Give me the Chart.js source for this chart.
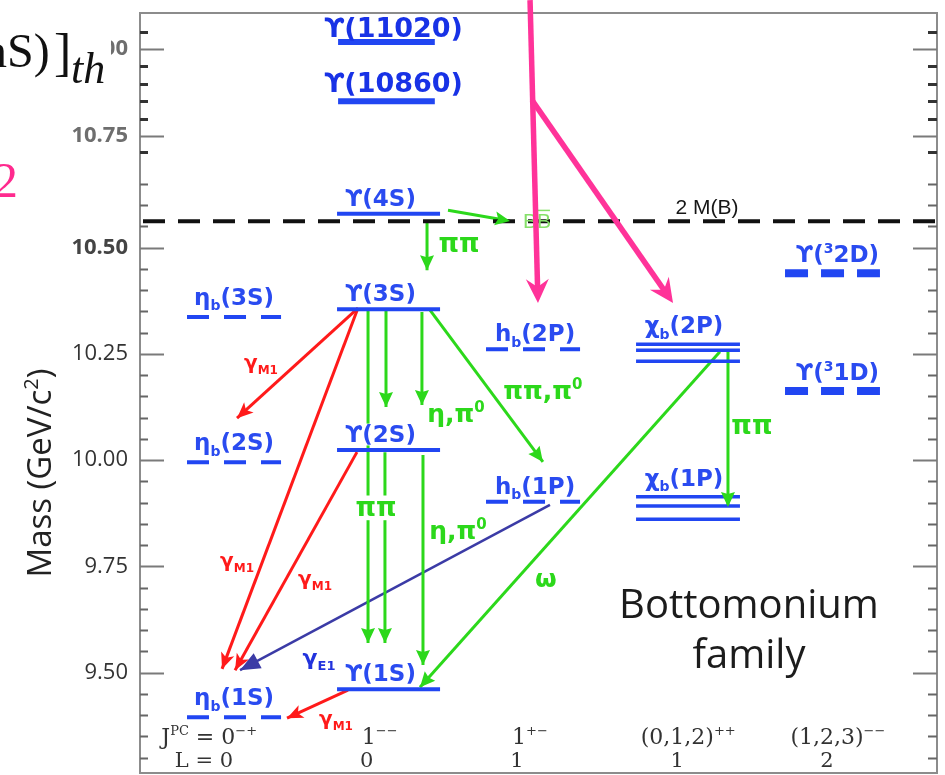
<!DOCTYPE html>
<html><head><meta charset="utf-8">
<script src="https://cdn.jsdelivr.net/npm/chart.js@4.4.1/dist/chart.umd.min.js"></script>
<style>html,body{margin:0;padding:0;background:#fff;overflow:hidden}canvas{display:block}</style>
</head><body>
<canvas id="c" width="945" height="775"></canvas>
<script>
// ================= DATA =================
const jpcLabels  = ['0-+', '1--', '1+-', '(0,1,2)++', '(1,2,3)--'];   // column categories (J^PC)
const orbitalL   = ['0', '0', '1', '1', '2'];
const majorTicks = [9.50, 9.75, 10.00, 10.25, 10.50, 10.75, 11.00];

const levelNames  = ['ηb(1S)','ηb(2S)','ηb(3S)','Υ(1S)','Υ(2S)','Υ(3S)','Υ(4S)','Υ(10860)','Υ(11020)',
                     'hb(1P)','hb(2P)','χb0(1P)','χb1(1P)','χb2(1P)','χb0(2P)','χb1(2P)','χb2(2P)','Υ(1D)','Υ(2D)'];
const levelColumn = [0,0,0, 1,1,1,1,1,1, 2,2, 3,3,3,3,3,3, 4,4];
const levelMass   = [9.395, 9.995, 10.337, 9.461, 10.024, 10.355, 10.580, 10.850, 11.020,
                     9.902, 10.261, 9.861, 9.892, 9.914, 10.233, 10.259, 10.273, 10.163, 10.440];
const thresholdMass = 10.562;   // 2 M(B)

// transitions (x in column units, y in GeV)
const transKind  = ['M1','M1','M1','M1','BB','pipi','pipi','pipi','pipi','eta','eta','pipi','omega','pipi','E1'];
const transFromX = [0.828, 0.828, 0.821, 0.761, 1.429, 1.289, 0.895, 1.015, 1.008, 1.255, 1.262, 1.309, 3.245, 3.299, 2.110];
const transFromM = [10.358,10.358,10.019, 9.459,10.588,10.558,10.353,10.353,10.019,10.349,10.012,10.353,10.255,10.255, 9.895];
const transToX   = [0.020,-0.080, 0.007, 0.354, 1.843, 1.289, 0.895, 1.015, 1.008, 1.255, 1.262, 2.063, 1.242, 3.299, 0.040];
const transToM   = [10.099, 9.509, 9.506, 9.393,10.563,10.447, 9.570,10.125, 9.570,10.130, 9.518, 9.996, 9.466, 9.890, 9.506];

// pink annotation arrows
const noteFromX = [1.977, 1.990];
const noteFromM = [11.140, 10.853];
const noteToX   = [2.030, 2.932];
const noteToM   = [10.370, 10.370];

// ================= STYLE / LAYOUT =================
const BLUE = '#2146f2', BLUET = '#2a4bf0', RED = '#ff1a1a', GREEN = '#2cd81b', NAVY = '#3b3ba6', PINK = '#ff3399';
const colShift = [0, 0.032, -0.003, 0.032, -0.003];
const colHalf  = [0.314, 0.344, 0.314, 0.347, 0.317];

// broken (piecewise-linear) value axis, as in the reference figure
const nodes = [[9.264,773],[10.65,183.95],[10.70,152],[10.75,136],[11.00,49],[11.103,13]].map(([v,p]) => [v,(773-p)/760]);
function v2d(v){
  let i = nodes.length - 2;
  for (let k = 0; k < nodes.length - 1; k++) { if (v <= nodes[k+1][0]) { i = k; break; } }
  const [a,da] = nodes[i], [b,db] = nodes[i+1];
  return da + (v-a)*(db-da)/(b-a);
}
function d2v(d){
  let i = nodes.length - 2;
  for (let k = 0; k < nodes.length - 1; k++) { if (d <= nodes[k+1][1]) { i = k; break; } }
  const [a,da] = nodes[i], [b,db] = nodes[i+1];
  return a + (d-da)*(b-a)/(db-da);
}
class BrokenScale extends Chart.LinearScale {
  static id = 'broken';
  static defaults = {};
  getPixelForValue(v){ return this.getPixelForDecimal(v2d(v)); }
  getValueForPixel(p){ return d2v(this.getDecimalForPixel(p)); }
}
Chart.register(BrokenScale);

// ---- datasets ----
const datasets = [];
levelNames.forEach((n,i) => {
  const c = levelColumn[i];
  const x0 = c + colShift[c] - colHalf[c], x1 = c + colShift[c] + colHalf[c];
  let st = {borderWidth: 4, borderDash: []};
  if (c === 0 || c === 2) st = {borderWidth: 4, borderDash: [22,15]};
  if (c === 3) st = {borderWidth: 3.5, borderDash: []};
  if (c === 4) st = {borderWidth: 8, borderDash: [23,13]};
  if (n === 'Υ(10860)' || n === 'Υ(11020)') st = {borderWidth: 6, borderDash: []};
  let xa = x0, xb = x1;
  if (n === 'Υ(10860)' || n === 'Υ(11020)') { xa = x0 + 0.007; xb = x1 - 0.035; }
  datasets.push({label: n, data: [{x: xa, y: levelMass[i]}, {x: xb, y: levelMass[i]}],
    borderColor: BLUE, borderWidth: st.borderWidth, borderDash: st.borderDash, showLine: true, pointRadius: 0});
});
datasets.push({label: '2M(B)', data: [{x: -0.628, y: thresholdMass}, {x: 4.695, y: thresholdMass}],
  borderColor: '#111', borderWidth: 4, borderDash: [22,13], borderDashOffset: 32, showLine: true, pointRadius: 0});
const kindStyle = {
  M1: {c: RED, w: 3, L: 16, W: 7, N: 4},
  BB: {c: GREEN, w: 3, L: 15, W: 7, N: 3},
  pipi: {c: GREEN, w: 3, L: 15, W: 7, N: 2},
  eta: {c: GREEN, w: 3, L: 15, W: 7, N: 2},
  omega: {c: GREEN, w: 3, L: 15, W: 7, N: 2},
  E1: {c: NAVY, w: 2.5, L: 20, W: 8.5, N: 0}
};
const arrowIdx = [];
transKind.forEach((k,i) => {
  arrowIdx.push({idx: datasets.length, st: kindStyle[k]});
  datasets.push({label: k, data: [{x: transFromX[i], y: transFromM[i]}, {x: transToX[i], y: transToM[i]}],
    borderColor: kindStyle[k].c, borderWidth: kindStyle[k].w, showLine: true, pointRadius: 0});
});

// ---- drawing helpers ----
function head(ctx, ax, ay, bx, by, st, color){
  const dx = bx-ax, dy = by-ay, len = Math.hypot(dx,dy); const ux = dx/len, uy = dy/len; const nx = -uy, ny = ux;
  ctx.beginPath();
  ctx.moveTo(bx, by);
  ctx.lineTo(bx - st.L*ux + st.W*nx, by - st.L*uy + st.W*ny);
  ctx.lineTo(bx - (st.L-st.N)*ux, by - (st.L-st.N)*uy);
  ctx.lineTo(bx - st.L*ux - st.W*nx, by - st.L*uy - st.W*ny);
  ctx.closePath(); ctx.fillStyle = color || st.c; ctx.fill();
}
function drawRich(ctx, x, y, segs, o){
  const fam = o.family || '"DejaVu Sans"';
  const parts = segs.map(s => {
    const kind = s[1] || 'n';
    const sz = (kind === 'sub' || kind === 'sup') ? Math.round(o.size*(o.small || 0.6)) : o.size;
    const font = `${o.style || 'normal'} ${o.weight || 'normal'} ${sz}px ${fam}`;
    ctx.font = font;
    const w = ctx.measureText(s[0]).width;
    const dy = kind === 'sub' ? o.size*0.24 : kind === 'sup' ? -o.size*0.4 : 0;
    return {t: s[0], kind, font, w, dy, sz};
  });
  const total = parts.reduce((a,p) => a+p.w, 0);
  let cx = o.align === 'center' ? x - total/2 : o.align === 'right' ? x - total : x;
  if (o.bg) { ctx.fillStyle = '#fff'; ctx.fillRect(cx-3, y - o.size*0.8, total+6, o.size*0.95); }
  ctx.textAlign = 'left'; ctx.textBaseline = 'alphabetic';
  for (const p of parts) {
    ctx.font = p.font; ctx.fillStyle = o.color;
    ctx.fillText(p.t, cx, y + p.dy);
    if (p.kind === 'bar') { ctx.strokeStyle = o.color; ctx.lineWidth = 1.5; ctx.beginPath(); ctx.moveTo(cx+1, y - p.sz*0.82); ctx.lineTo(cx+p.w-1, y - p.sz*0.82); ctx.stroke(); }
    cx += p.w;
  }
  return total;
}

const stateLabels = [
  {lvl: 'ηb(1S)', segs: [['η'],['b','sub'],['(1S)']], dx: 0, dy: 12},
  {lvl: 'ηb(2S)', segs: [['η'],['b','sub'],['(2S)']], dx: 0, dy: 12},
  {lvl: 'ηb(3S)', segs: [['η'],['b','sub'],['(3S)']], dx: 0, dy: 12},
  {lvl: 'Υ(1S)', segs: [['ϒ(1S)']], dx: -8, dy: 8, bg: true},
  {lvl: 'Υ(2S)', segs: [['ϒ(2S)']], dx: -8, dy: 8, bg: true},
  {lvl: 'Υ(3S)', segs: [['ϒ(3S)']], dx: -8, dy: 8},
  {lvl: 'Υ(4S)', segs: [['ϒ(4S)']], dx: -8, dy: 8},
  {lvl: 'Υ(10860)', segs: [['ϒ(10860)']], dx: 5, dy: 9, size: 27, color: '#1832e6'},
  {lvl: 'Υ(11020)', segs: [['ϒ(11020)']], dx: 5, dy: 5, size: 27, color: '#1832e6'},
  {lvl: 'hb(1P)', segs: [['h'],['b','sub'],['(1P)']], dx: 2, dy: 8},
  {lvl: 'hb(2P)', segs: [['h'],['b','sub'],['(2P)']], dx: 2, dy: 8},
  {lvl: 'χb2(1P)', segs: [['χ'],['b','sub'],['(1P)']], dx: -4, dy: 11},
  {lvl: 'χb2(2P)', segs: [['χ'],['b','sub'],['(2P)']], dx: -4, dy: 11},
  {lvl: 'Υ(1D)', segs: [['ϒ('],['3','sup'],['1D)']], dx: 5, dy: 11},
  {lvl: 'Υ(2D)', segs: [['ϒ('],['3','sup'],['2D)']], dx: 5, dy: 11}
];
const GM = [['γ'],['M1','sub']];
const transLabels = [
  {segs: GM, x: 0.180, m: 10.231, color: RED, size: 20},
  {segs: GM, x: 0.020, m: 9.765, color: RED, size: 20},
  {segs: GM, x: 0.541, m: 9.723, color: RED, size: 20},
  {segs: GM, x: 0.681, m: 9.393, color: RED, size: 20},
  {segs: [['B'],['B','bar']], x: 2.023, m: 10.565, color: '#86e06a', size: 21, weight: 'normal', family: '"Liberation Sans"'},
  {segs: [['ππ']], x: 1.503, m: 10.511, color: GREEN, size: 26},
  {segs: [['ππ']], x: 0.948, m: 9.890, color: GREEN, size: 26, bg: true},
  {segs: [['η,π'],['0','sup']], x: 1.482, m: 10.111, color: GREEN, size: 25},
  {segs: [['η,π'],['0','sup']], x: 1.496, m: 9.836, color: GREEN, size: 25},
  {segs: [['ππ,π'],['0','sup']], x: 2.063, m: 10.165, color: GREEN, size: 25},
  {segs: [['ω']], x: 2.083, m: 9.723, color: GREEN, size: 25},
  {segs: [['ππ']], x: 3.459, m: 10.083, color: GREEN, size: 26},
  {segs: [['γ'],['E1','sub']], x: 0.568, m: 9.537, color: '#2233dd', size: 22},
  {segs: [['2 M(B)']], x: 3.159, m: 10.598, color: '#161616', size: 21, weight: 'normal', family: '"Liberation Sans"'}
];

const plugin = {
  id: 'bottomonium',
  afterDatasetsDraw(chart){
    const ctx = chart.ctx, xs = chart.scales.x, ys = chart.scales.y;
    ctx.save();
    arrowIdx.forEach(({idx, st}) => {
      const pts = chart.getDatasetMeta(idx).data;
      head(ctx, pts[0].x, pts[0].y, pts[1].x, pts[1].y, st);
    });
    stateLabels.forEach(l => {
      const i = levelNames.indexOf(l.lvl), c = levelColumn[i];
      const px = xs.getPixelForValue(c + colShift[c]) + l.dx, py = ys.getPixelForValue(levelMass[i]) - l.dy;
      drawRich(ctx, px, py, l.segs, {size: l.size || 23, weight: 'bold', color: l.color || BLUET, align: 'center', bg: l.bg});
    });
    transLabels.forEach(l => {
      const s = l.size;
      drawRich(ctx, xs.getPixelForValue(l.x), ys.getPixelForValue(l.m) + s*0.36, l.segs,
        {size: s, weight: l.weight || 'bold', color: l.color, align: 'center', bg: l.bg, family: l.family});
    });
    // column quantum numbers
    jpcLabels.forEach((j,c) => {
      const cx = xs.getPixelForValue(c);
      const base = j.slice(0, -2), pc = j.slice(-2).replace(/-/g,'−');
      const o = {size: 22, color: '#333', family: '"DejaVu Serif"', small: 0.6};
      const y1 = ys.getPixelForValue(9.333), y2 = ys.getPixelForValue(9.279);
      if (c === 0) {
        drawRich(ctx, cx + 23, y1, [['J'],['PC','sup'],[' = ' + base],[pc,'sup']], {...o, align: 'right'});
        drawRich(ctx, cx - 1, y2, [['L = ' + orbitalL[c]]], {...o, size: 21, align: 'right'});
      } else {
        const off1 = [0, -4, -3.5, 5, 5][c], off2 = [0, -17, -16.5, -6, -6][c];
        drawRich(ctx, cx + off1, y1, [[base],[pc,'sup']], {...o, align: 'center'});
        drawRich(ctx, cx + off2, y2, [[orbitalL[c]]], {...o, size: 21, align: 'center'});
      }
    });
    const bx = xs.getPixelForValue(3.439);
    drawRich(ctx, bx, ys.getPixelForValue(9.629), [['Bottomonium']], {size: 40, color: '#1c1c1c', align: 'center', family: '"Open Sans"'});
    drawRich(ctx, bx, ys.getPixelForValue(9.511), [['family']], {size: 40, color: '#1c1c1c', align: 'center', family: '"Open Sans"'});
    ctx.restore();
  },
  afterDraw(chart){
    const ctx = chart.ctx, xs = chart.scales.x, ys = chart.scales.y, a = chart.chartArea;
    ctx.save();
    // frame
    ctx.strokeStyle = '#8c8c8c'; ctx.lineWidth = 2;
    ctx.strokeRect(a.left, a.top, a.right - a.left, a.bottom - a.top);
    // ticks (inward, both sides)
    for (let k = 186; k <= 221; k++) {
      const v = k*0.05, y = Math.round(ys.getPixelForValue(v)) + 0.5;
      const major = k % 5 === 0;
      ctx.strokeStyle = major ? '#7a7a7a' : (v > 10.68 ? '#333' : '#666');
      ctx.lineWidth = major ? 2 : (v > 10.68 ? 3 : 2);
      ctx.beginPath();
      ctx.moveTo(a.left, y); ctx.lineTo(a.left + (major ? 24 : 8), y);
      ctx.moveTo(a.right, y); ctx.lineTo(a.right - (major ? 24 : 9), y);
      ctx.stroke();
    }
    // y title
    ctx.save();
    ctx.translate(51, 473); ctx.rotate(-Math.PI/2);
    drawRich(ctx, 0, 0, [['Mass (GeV/c'],['2','sup'],[')']], {size: 33, color: '#222', align: 'center', family: '"Open Sans"', small: 0.62});
    ctx.restore();
    // overlay from slide
    ctx.fillStyle = '#fff'; ctx.fillRect(0, 0, 111, 100);
    ctx.fillStyle = '#111'; ctx.textAlign = 'left'; ctx.textBaseline = 'alphabetic';
    ctx.font = '48px "Liberation Serif"';
    ctx.fillText('nS)', -17, 67);
    ctx.font = '52px "Liberation Serif"';
    ctx.fillText(']', 54, 70);
    ctx.font = 'italic 44px "Liberation Serif"';
    ctx.fillText('th', 71, 83);
    ctx.fillStyle = '#ff2a8e'; ctx.font = '50px "Liberation Serif"';
    ctx.fillText('2', -7, 197);
    // pink arrows
    const pst = {L: 24, W: 11.5, N: 8};
    noteFromX.forEach((fx,i) => {
      const ax = xs.getPixelForValue(fx), ay = ys.getPixelForValue(noteFromM[i]);
      const bx = xs.getPixelForValue(noteToX[i]), by = ys.getPixelForValue(noteToM[i]);
      const len = Math.hypot(bx-ax, by-ay), ux = (bx-ax)/len, uy = (by-ay)/len;
      ctx.strokeStyle = PINK; ctx.lineWidth = 5.5; ctx.lineCap = 'butt';
      ctx.beginPath(); ctx.moveTo(ax, ay); ctx.lineTo(bx - (pst.L-pst.N)*ux, by - (pst.L-pst.N)*uy); ctx.stroke();
      head(ctx, ax, ay, bx, by, pst, PINK);
    });
    ctx.restore();
  }
};

new Chart(document.getElementById('c'), {
  type: 'scatter',
  data: {datasets},
  options: {
    responsive: false, animation: false, devicePixelRatio: 1,
    layout: {padding: {left: 0, right: 8, top: 13, bottom: 2}},
    elements: {line: {tension: 0, borderCapStyle: 'butt'}, point: {radius: 0}},
    plugins: {legend: {display: false}, tooltip: {enabled: false}},
    scales: {
      x: {type: 'linear', min: -0.628, max: 4.695, display: false},
      y: {
        type: 'broken', position: 'left', min: 9.264, max: 11.103,
        grid: {display: false, drawTicks: false}, border: {display: false},
        afterBuildTicks: s => { s.ticks = majorTicks.map(v => ({value: v})); },
        afterFit: s => { s.width = 140; s.paddingTop = 0; s.paddingBottom = 0; },
        ticks: {
          autoSkip: false, padding: 12,
          callback: v => Number(v).toFixed(2),
          color: c => (c.tick && c.tick.value >= 10.74) ? '#6e6e6e' : (c.tick && c.tick.value >= 10.49 ? '#444' : '#333'),
          font: c => ({family: 'Open Sans', size: 22, weight: (c.tick && c.tick.value >= 10.49) ? 'bold' : 'normal'})
        }
      }
    }
  },
  plugins: [plugin]
});
</script>
</body></html>
